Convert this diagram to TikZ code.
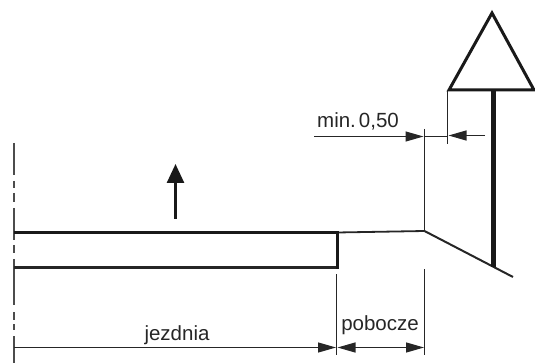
\documentclass[tikz,border=0pt]{standalone}
\usepackage{fontspec}
\setmainfont{Liberation Sans}
\usetikzlibrary{arrows.meta}
\tikzset{
  thinln/.style={line width=1.2pt,draw=black!85},
  roadln/.style={line width=2.8pt,draw=black!90},
  heavy/.style={line width=3pt,draw=black!90,line join=miter},
  postln/.style={line width=5.5pt,draw=black!90},
  dimln/.style={line width=1.2pt,draw=black!85,-{Triangle[length=18pt,width=10pt]}},
  dimboth/.style={line width=1.2pt,draw=black!85,{Triangle[length=18pt,width=10pt]}-{Triangle[length=18pt,width=10pt]}},
  lbl/.style={inner sep=0pt,font=\fontsize{20.5}{20.5}\selectfont,text=black!85},
}
\begin{document}
\begin{tikzpicture}[x=1pt,y=-1pt]
\useasboundingbox (0,0) rectangle (535,363);
% key points
\coordinate (apex) at (492,13);
\coordinate (triL) at (449,90);
\coordinate (triR) at (534,90);
\coordinate (postT) at (493.5,90);
\coordinate (postB) at (493.5,267);
\coordinate (roadL) at (14,232.5);
\coordinate (roadM) at (337,232.5);
\coordinate (edge) at (424.5,231);
\coordinate (slopeE) at (513,277);
\coordinate (lowL) at (14,267.5);
\coordinate (lowR) at (337,267.5);
% centre line
\foreach \a/\b in {143/175,181/188,193/202,208/240,245/253,259/305,312/320,324/330,336/363}
  \draw[line width=1.4pt,draw=black!70] (14,\a) -- (14,\b);
% road
\draw[roadln] (roadL) -- (roadM);
\draw[line width=1.8pt,draw=black!85] (roadM) -- (edge);
\draw[line width=2pt,draw=black!85] (edge) -- (slopeE);
\draw[line width=2.2pt,draw=black!85] (lowL) -- (lowR);
\draw[line width=3pt,draw=black!90,line cap=rect] (roadM) -- (lowR);
% sign
\draw[postln] (postT) -- (postB);
\draw[heavy] (apex) -- (triR) -- (triL) -- cycle;
% extension lines
\coordinate (e1t) at (447.5,90);
\coordinate (e1b) at (447.5,144);
\coordinate (e2t) at (424.5,129);
\coordinate (e3t) at (336.5,274);
\coordinate (e3b) at (336.5,355);
\coordinate (e4t) at (424.5,269);
\coordinate (e4b) at (424.5,355);
\draw[thinln] (e1t) -- (e1b);
\draw[thinln] (e2t) -- (edge);
\draw[thinln] (e3t) -- (e3b);
\draw[thinln] (e4t) -- (e4b);
% dimension top
\coordinate (d1s) at (314,136.5);
\coordinate (d1e) at (423.5,136.5);
\coordinate (d2s) at (485,135.5);
\coordinate (d2e) at (448.5,135.5);
\draw[dimln] (d1s) -- (d1e);
\draw[thinln] (d1e) -- (e1t |- d1e);
\draw[dimln] (d2s) -- (d2e);
% dimension bottom
\coordinate (d3s) at (14,347.5);
\coordinate (d3e) at (336,347.5);
\coordinate (d4s) at (337.5,347.5);
\coordinate (d4e) at (424,347.5);
\draw[dimln] (d3s) -- (d3e);
\draw[dimboth] (d4s) -- (d4e);
% direction arrow
\coordinate (upS) at (175.5,219);
\coordinate (upE) at (175.5,164);
\draw[line width=2.6pt,draw=black!90,-{Triangle[length=19pt,width=17pt]}] (upS) -- (upE);
% labels
\node[lbl,anchor=base] (minl) at (358,128) {min.\hspace{3pt}0,50};
\node[lbl,anchor=base] (jezd) at (177,340) {jezdnia};
\node[lbl,anchor=base] (pob) at (380,330) {pobocze};
\end{tikzpicture}
\end{document}
